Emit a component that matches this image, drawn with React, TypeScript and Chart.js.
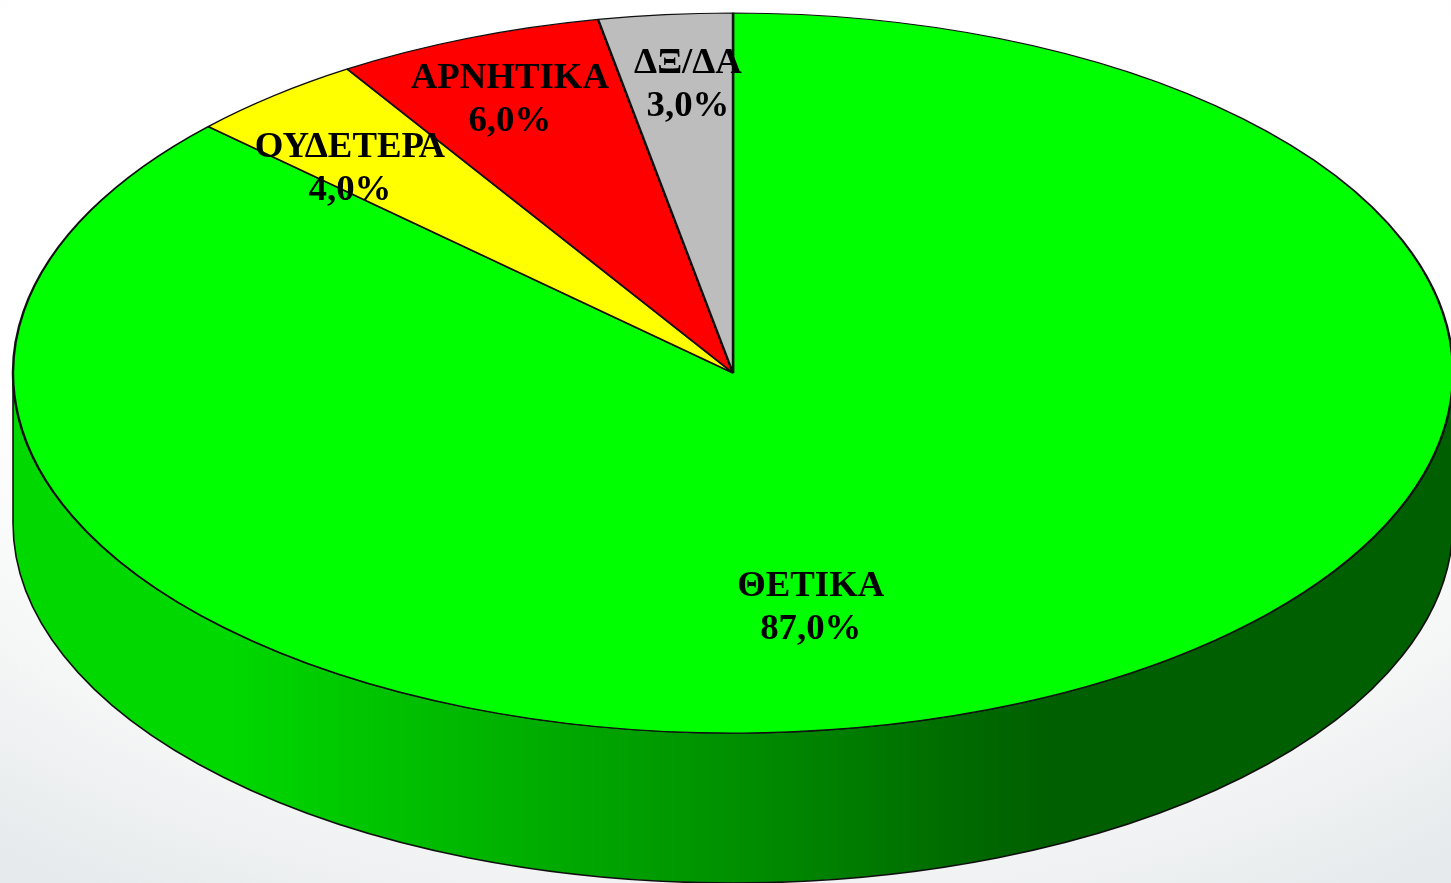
import React, { useEffect, useRef } from "react";
import { Chart, registerables } from "chart.js";

Chart.register(...registerables);

const categories = ["ΘΕΤΙΚΑ", "ΟΥΔΕΤΕΡΑ", "ΑΡΝΗΤΙΚΑ", "ΔΞ/ΔΑ"];
const values = [87, 4, 6, 3];
const sliceColors = ["#00ff00", "#ffff00", "#ff0000", "#bdbdbd"];
const labelAnchorX = [0.108, -0.532, -0.31, -0.0625];
const labelAnchorY = [0.652, -0.568, -0.757, -0.8];

const WIDTH = 1451;
const HEIGHT = 883;
const CX = 733;
const CY = 373;
const RX = 720;
const RY = 360;
const DEPTH = 150;

const pie3d = {
  id: "pie3d",
  beforeDatasetsDraw(chart: any) {
    const ctx = chart.ctx;
    const arc = chart.getDatasetMeta(0).data[0];
    const R = arc.outerRadius;
    // side wall of the disc
    const g = ctx.createLinearGradient(CX - RX, 0, CX + RX, 0);
    g.addColorStop(0, "#00d800");
    g.addColorStop(0.15, "#00d800");
    g.addColorStop(0.33, "#00b400");
    g.addColorStop(0.5, "#009000");
    g.addColorStop(0.65, "#006c00");
    g.addColorStop(0.72, "#005f00");
    g.addColorStop(1, "#005f00");
    ctx.save();
    ctx.beginPath();
    ctx.ellipse(CX, CY, RX, RY, 0, 0, Math.PI);
    ctx.lineTo(CX - RX, CY + DEPTH);
    ctx.ellipse(CX, CY + DEPTH, RX, RY, 0, Math.PI, 0, true);
    ctx.closePath();
    ctx.fillStyle = g;
    ctx.fill();
    ctx.strokeStyle = "#101010";
    ctx.lineWidth = 1.6;
    ctx.stroke();
    ctx.restore();
    // flatten the library's arcs into the tilted ellipse
    ctx.save();
    ctx.translate(CX, CY);
    ctx.scale(RX / R, RY / R);
    ctx.translate(-arc.x, -arc.y);
  },
  afterDatasetsDraw(chart: any) {
    chart.ctx.restore();
  },
  afterDraw(chart: any) {
    const ctx = chart.ctx;
    ctx.save();
    ctx.fillStyle = "#000";
    ctx.font = 'bold 36.8px "Liberation Serif"';
    ctx.textAlign = "center";
    ctx.textBaseline = "middle";
    const ds = chart.data.datasets[0].data;
    chart.data.labels.forEach((name: string, i: number) => {
      const x = CX + labelAnchorX[i] * RX;
      const y = CY + labelAnchorY[i] * RY;
      ctx.fillText(name, x, y - 21.5);
      ctx.fillText(ds[i].toFixed(1).replace(".", ",") + "%", x, y + 21.5);
    });
    ctx.restore();
  },
};

export default function App() {
  const ref = useRef<HTMLCanvasElement>(null);
  useEffect(() => {
    const chart = new Chart(ref.current as HTMLCanvasElement, {
      type: "pie",
      data: {
        labels: categories,
        datasets: [
          {
            data: values,
            backgroundColor: sliceColors,
            borderColor: "#101010",
            borderWidth: 1.5,
            clip: false,
          } as any,
        ],
      },
      options: {
        animation: false,
        responsive: false,
        devicePixelRatio: 1,
        events: [],
        layout: { padding: 0 },
        plugins: { legend: { display: false }, tooltip: { enabled: false } },
      },
      plugins: [pie3d],
    });
    return () => chart.destroy();
  }, []);
  return (
    <div
      style={{
        position: "fixed",
        left: 0,
        top: 0,
        width: WIDTH,
        height: HEIGHT,
        overflow: "hidden",
        background: "radial-gradient(ellipse 85% 92% at 50% 22%, #ffffff 62%, #f5f6f6 80%, #e6eaec 100%)",
      }}
    >
      <canvas ref={ref} width={WIDTH} height={HEIGHT} style={{ display: "block", filter: "blur(0.5px)" }} />
    </div>
  );
}
